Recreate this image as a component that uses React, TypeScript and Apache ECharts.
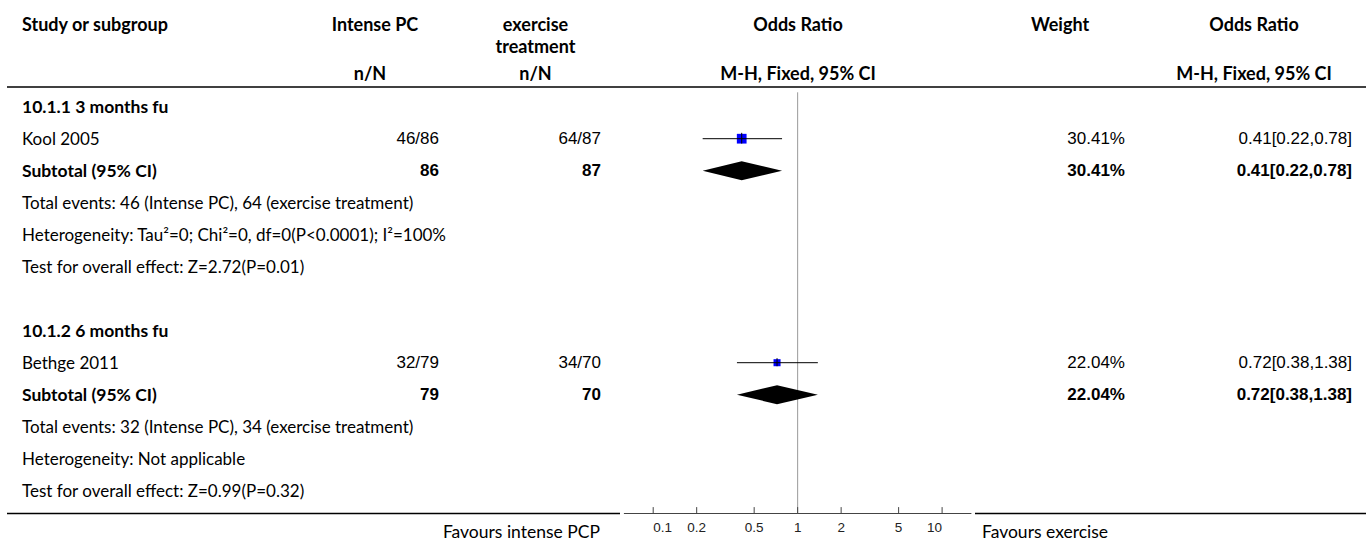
import React, { useEffect, useRef } from "react";
import * as echarts from "echarts";

// ---------- data ----------
const groupNames = ["10.1.1 3 months fu", "10.1.2 6 months fu"];
const studyNames = ["Kool 2005", "Bethge 2011"];
const intenseEvents = [46, 32];
const intenseTotals = [86, 79];
const exerciseEvents = [64, 34];
const exerciseTotals = [87, 70];
const weights = [30.41, 22.04];
const oddsRatios = [0.41, 0.72];
const ciLower = [0.22, 0.38];
const ciUpper = [0.78, 1.38];
const subtotalOR = [0.41, 0.72];
const subtotalLower = [0.22, 0.38];
const subtotalUpper = [0.78, 1.38];
const heterogeneityTexts = ["Tau²=0; Chi²=0, df=0(P<0.0001); I²=100%", "Not applicable"];
const zValues = ["2.72", "0.99"];
const pValues = ["0.01", "0.32"];
const tickValues = [0.1, 0.2, 0.5, 1, 2, 5, 10];
const tickLabels = ["0.1", "0.2", "0.5", "1", "2", "5", "10"];

// ---------- layout ----------
const W = 1370;
const H = 541;
const ROW0 = 106.7;
const ROW_H = 32;
const Y_MIN = -0.5;
const Y_MAX = 12.7;
const X_MIN = Math.pow(10, -1.2);
const X_MAX = Math.pow(10, 1.2);
const PLOT_LEFT = 624.3;
const PLOT_RIGHT = 971;
const GRID_TOP = ROW0 + Y_MIN * ROW_H;
const GRID_BOTTOM_PX = ROW0 + Y_MAX * ROW_H;

const TEXT_FONT = "Lato, 'Noto Sans', sans-serif";
const NUM_FONT = "'Liberation Sans', Arial, sans-serif";
const TEXT_SIZE = 17;
const BOLD_SIZE = 17.5;
const HEADER_SIZE = 18;
const NUM_SIZE = 17;

const COL_LEFT = 22;
const COL_INTENSE = 439;
const COL_EXERCISE = 601;
const COL_WEIGHT = 1125;
const COL_OR = 1352;

type Cell = { row: number; text: string; x: number; align: string; bold: boolean; num: boolean };

function buildCells(): Cell[] {
  const cells: Cell[] = [];
  groupNames.forEach((g, i) => {
    const base = i * 7;
    const orText = `${oddsRatios[i].toFixed(2)}[${ciLower[i].toFixed(2)},${ciUpper[i].toFixed(2)}]`;
    const subText = `${subtotalOR[i].toFixed(2)}[${subtotalLower[i].toFixed(2)},${subtotalUpper[i].toFixed(2)}]`;
    cells.push({ row: base, text: g, x: COL_LEFT, align: "left", bold: true, num: false });
    cells.push({ row: base + 1, text: studyNames[i], x: COL_LEFT, align: "left", bold: false, num: false });
    cells.push({ row: base + 1, text: `${intenseEvents[i]}/${intenseTotals[i]}`, x: COL_INTENSE, align: "right", bold: false, num: true });
    cells.push({ row: base + 1, text: `${exerciseEvents[i]}/${exerciseTotals[i]}`, x: COL_EXERCISE, align: "right", bold: false, num: true });
    cells.push({ row: base + 1, text: `${weights[i].toFixed(2)}%`, x: COL_WEIGHT, align: "right", bold: false, num: true });
    cells.push({ row: base + 1, text: orText, x: COL_OR, align: "right", bold: false, num: true });
    cells.push({ row: base + 2, text: "Subtotal (95% CI)", x: COL_LEFT, align: "left", bold: true, num: false });
    cells.push({ row: base + 2, text: `${intenseTotals[i]}`, x: COL_INTENSE, align: "right", bold: true, num: true });
    cells.push({ row: base + 2, text: `${exerciseTotals[i]}`, x: COL_EXERCISE, align: "right", bold: true, num: true });
    cells.push({ row: base + 2, text: `${weights[i].toFixed(2)}%`, x: COL_WEIGHT, align: "right", bold: true, num: true });
    cells.push({ row: base + 2, text: subText, x: COL_OR, align: "right", bold: true, num: true });
    cells.push({
      row: base + 3,
      text: `Total events: ${intenseEvents[i]} (Intense PC), ${exerciseEvents[i]} (exercise treatment)`,
      x: COL_LEFT, align: "left", bold: false, num: false,
    });
    cells.push({ row: base + 4, text: `Heterogeneity: ${heterogeneityTexts[i]}`, x: COL_LEFT, align: "left", bold: false, num: false });
    cells.push({
      row: base + 5,
      text: `Test for overall effect: Z=${zValues[i]}(P=${pValues[i]})`,
      x: COL_LEFT, align: "left", bold: false, num: false,
    });
  });
  return cells;
}

function headerText(text: string, x: number, y: number, align: string) {
  return {
    type: "text",
    x,
    y,
    silent: true,
    style: {
      text,
      align,
      verticalAlign: "middle",
      font: `bold ${HEADER_SIZE}px ${TEXT_FONT}`,
      fill: "#000",
    },
  };
}

function hLine(x1: number, x2: number, y: number, color: string, w: number) {
  return {
    type: "line",
    silent: true,
    shape: { x1, y1: y, x2, y2: y },
    style: { stroke: color, lineWidth: w },
  };
}

export default function App() {
  const ref = useRef<HTMLDivElement>(null);

  useEffect(() => {
    if (!ref.current) return;
    const chart = echarts.init(ref.current, null, { renderer: "svg" });
    const cells = buildCells();
    const studyData = oddsRatios.map((v, i) => [v, ciLower[i], ciUpper[i], i * 7 + 1, weights[i]]);
    const diamondData = subtotalOR.map((v, i) => [v, subtotalLower[i], subtotalUpper[i], i * 7 + 2]);

    const option: any = {
      animation: false,
      backgroundColor: "#fff",
      grid: {
        left: PLOT_LEFT,
        right: W - PLOT_RIGHT,
        top: GRID_TOP,
        bottom: H - GRID_BOTTOM_PX,
        containLabel: false,
      },
      xAxis: {
        type: "log",
        logBase: 10,
        min: X_MIN,
        max: X_MAX,
        axisLine: { show: true, onZero: false, lineStyle: { color: "#444", width: 1 } },
        axisTick: { show: false },
        axisLabel: { show: false },
        splitLine: { show: false },
      },
      yAxis: {
        type: "value",
        inverse: true,
        min: Y_MIN,
        max: Y_MAX,
        show: false,
        splitLine: { show: false },
      },
      graphic: {
        elements: [
          headerText("Study or subgroup", COL_LEFT, 24, "left"),
          headerText("Intense PC", 375, 24, "center"),
          headerText("exercise", 535.5, 24, "center"),
          headerText("treatment", 535.5, 46, "center"),
          headerText("n/N", 370, 73, "center"),
          headerText("n/N", 535.5, 73, "center"),
          headerText("Odds Ratio", 798, 24, "center"),
          headerText("M-H, Fixed, 95% CI", 798, 73, "center"),
          headerText("Weight", 1060, 24, "center"),
          headerText("Odds Ratio", 1254, 24, "center"),
          headerText("M-H, Fixed, 95% CI", 1254, 73, "center"),
          hLine(7, 1366, 87, "#000", 1.5),
          hLine(7, 620, 513.5, "#000", 1.5),
          hLine(975, 1366, 513.5, "#000", 1.5),
          {
            type: "text",
            x: 600,
            y: 531,
            silent: true,
            style: { text: "Favours intense PCP", align: "right", verticalAlign: "middle", font: `17.5px ${TEXT_FONT}`, fill: "#000" },
          },
          {
            type: "text",
            x: 982,
            y: 531,
            silent: true,
            style: { text: "Favours exercise", align: "left", verticalAlign: "middle", font: `17.5px ${TEXT_FONT}`, fill: "#000" },
          },
        ],
      },
      series: [
        {
          type: "custom",
          name: "reference",
          silent: true,
          data: [[1]],
          renderItem: (params: any, api: any) => {
            const a = api.coord([api.value(0), Y_MIN + 0.05]);
            const b = api.coord([api.value(0), Y_MAX]);
            return {
              type: "line",
              shape: { x1: a[0], y1: a[1], x2: b[0], y2: b[1] },
              style: { stroke: "#999", lineWidth: 1 },
            };
          },
        },
        {
          type: "custom",
          name: "ticks",
          silent: true,
          data: tickValues.map((v) => [v]),
          renderItem: (params: any, api: any) => {
            const p = api.coord([api.value(0), Y_MAX]);
            const idx = params.dataIndex;
            const align = idx === 0 ? "left" : idx === tickValues.length - 1 ? "right" : "center";
            return {
              type: "group",
              children: [
                {
                  type: "line",
                  shape: { x1: p[0], y1: p[1] - 6, x2: p[0], y2: p[1] },
                  style: { stroke: "#444", lineWidth: 1 },
                },
                {
                  type: "text",
                  x: p[0],
                  y: p[1] + 14,
                  style: {
                    text: tickLabels[idx],
                    align,
                    verticalAlign: "middle",
                    font: `13.5px ${NUM_FONT}`,
                    fill: "#222",
                  },
                },
              ],
            };
          },
        },
        {
          type: "custom",
          name: "studies",
          silent: true,
          data: studyData,
          renderItem: (params: any, api: any) => {
            const row = api.value(3);
            const pc = api.coord([api.value(0), row]);
            const pl = api.coord([api.value(1), row]);
            const ph = api.coord([api.value(2), row]);
            const s = api.value(4) * 0.32;
            return {
              type: "group",
              children: [
                {
                  type: "rect",
                  shape: { x: pc[0] - s / 2, y: pc[1] - s / 2, width: s, height: s },
                  style: { fill: "#0000ff" },
                },
                {
                  type: "line",
                  shape: { x1: pl[0], y1: pc[1], x2: ph[0], y2: pc[1] },
                  style: { stroke: "#000", lineWidth: 1 },
                },
                {
                  type: "line",
                  shape: { x1: pc[0], y1: pc[1] - s / 2 - 1, x2: pc[0], y2: pc[1] + s / 2 },
                  style: { stroke: "#000", lineWidth: 1 },
                },
              ],
            };
          },
        },
        {
          type: "custom",
          name: "subtotals",
          silent: true,
          data: diamondData,
          renderItem: (params: any, api: any) => {
            const row = api.value(3);
            const pc = api.coord([api.value(0), row]);
            const pl = api.coord([api.value(1), row]);
            const ph = api.coord([api.value(2), row]);
            const h = 9.5;
            return {
              type: "polygon",
              shape: {
                points: [
                  [pl[0], pc[1]],
                  [pc[0], pc[1] - h],
                  [ph[0], pc[1]],
                  [pc[0], pc[1] + h],
                ],
              },
              style: { fill: "#000" },
            };
          },
        },
        {
          type: "custom",
          name: "table",
          silent: true,
          data: cells.map((c) => [1, c.row]),
          renderItem: (params: any, api: any) => {
            const c = cells[params.dataIndex];
            const p = api.coord([api.value(0), api.value(1)]);
            const font = c.num
              ? `${c.bold ? "bold " : ""}${NUM_SIZE}px ${NUM_FONT}`
              : `${c.bold ? "bold " + BOLD_SIZE : TEXT_SIZE}px ${TEXT_FONT}`;
            return {
              type: "text",
              x: c.x,
              y: p[1],
              style: {
                text: c.text,
                align: c.align,
                verticalAlign: "middle",
                font,
                fill: "#000",
              },
            };
          },
        },
      ],
    };

    chart.setOption(option);
    return () => {
      chart.dispose();
    };
  }, []);

  return (
    <div
      ref={ref}
      style={{ position: "absolute", left: 0, top: 0, width: W, height: H, background: "#fff" }}
    />
  );
}
